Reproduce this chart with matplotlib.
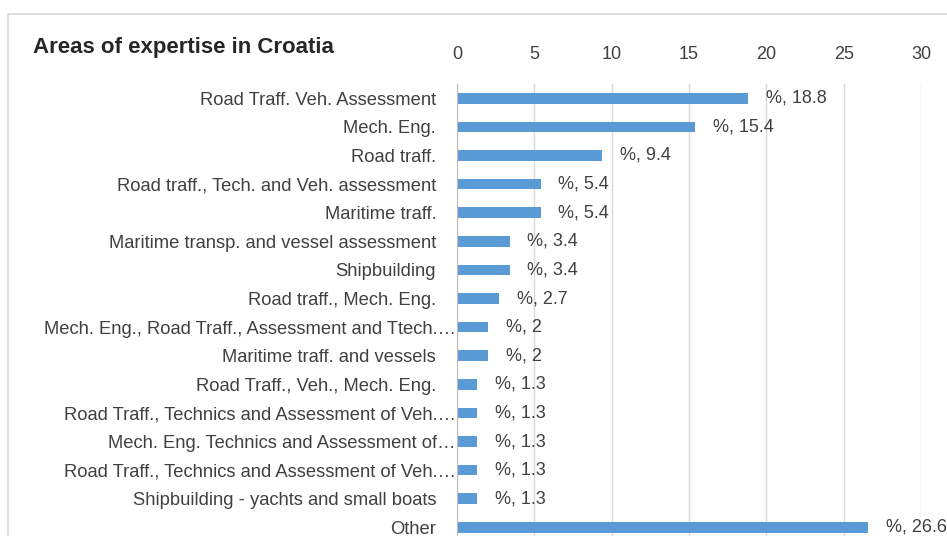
import matplotlib.pyplot as plt
from matplotlib.patches import Rectangle

categories = [
    "Road Traff. Veh. Assessment",
    "Mech. Eng.",
    "Road traff.",
    "Road traff., Tech. and Veh. assessment",
    "Maritime traff.",
    "Maritime transp. and vessel assessment",
    "Shipbuilding",
    "Road traff., Mech. Eng.",
    "Mech. Eng., Road Traff., Assessment and Ttech.\u2026",
    "Maritime traff. and vessels",
    "Road Traff., Veh., Mech. Eng.",
    "Road Traff., Technics and Assessment of Veh.\u2026",
    "Mech. Eng. Technics and Assessment of\u2026",
    "Road Traff., Technics and Assessment of Veh.\u2026",
    "Shipbuilding - yachts and small boats",
    "Other",
]
values = [18.8, 15.4, 9.4, 5.4, 5.4, 3.4, 3.4, 2.7, 2, 2, 1.3, 1.3, 1.3, 1.3, 1.3, 26.6]
xticks = [0, 5, 10, 15, 20, 25, 30]

plt.rcParams['font.family'] = ['Liberation Sans', 'DejaVu Sans']

fig = plt.figure(figsize=(9.47, 5.36), dpi=100)
W, H = 947, 536
# outer chart border (cut off at right/bottom)
fig.patches.append(Rectangle((8 / W, -0.1), 1.2, 1 - 14 / H + 0.1, transform=fig.transFigure,
                             fill=False, edgecolor='#D9D9D9', linewidth=1.2))

ax = fig.add_axes([457 / W, 1 - 541.6 / H, (921 - 457) / W, (541.6 - 84) / H])
y = list(range(len(categories)))
ax.barh(y, values, height=0.37, color='#5B9BD5')
ax.set_ylim(len(categories) - 0.5, -0.5)
ax.set_xlim(0, 30)
ax.set_xticks(xticks)
ax.set_yticks(y)
ax.set_yticklabels(categories)
ax.xaxis.tick_top()
ax.tick_params(axis='x', length=0, pad=15, labelsize=13, labelcolor='#404040')
ax.tick_params(axis='y', length=0, labelsize=13.2, labelcolor='#404040')
for t, lab in zip(ax.yaxis.get_major_ticks(), categories):
    t.set_pad(1 if lab.endswith('\u2026') else 15)
ax.grid(axis='x', color='#D9D9D9', linewidth=1)
ax.set_axisbelow(True)
for s in ['top', 'right', 'bottom']:
    ax.spines[s].set_visible(False)
ax.spines['left'].set_color('#BFBFBF')

for yi, v in zip(y, values):
    ax.text(v + 1.15, yi, "%, " + f"{v:g}", va='center', ha='left', fontsize=13, color='#404040')

fig.text(33 / W, 1 - 48 / H, "Areas of expertise in Croatia", fontsize=16, fontweight='bold',
         color='#262626', va='center', ha='left')

fig.savefig("out.png", dpi=100)
